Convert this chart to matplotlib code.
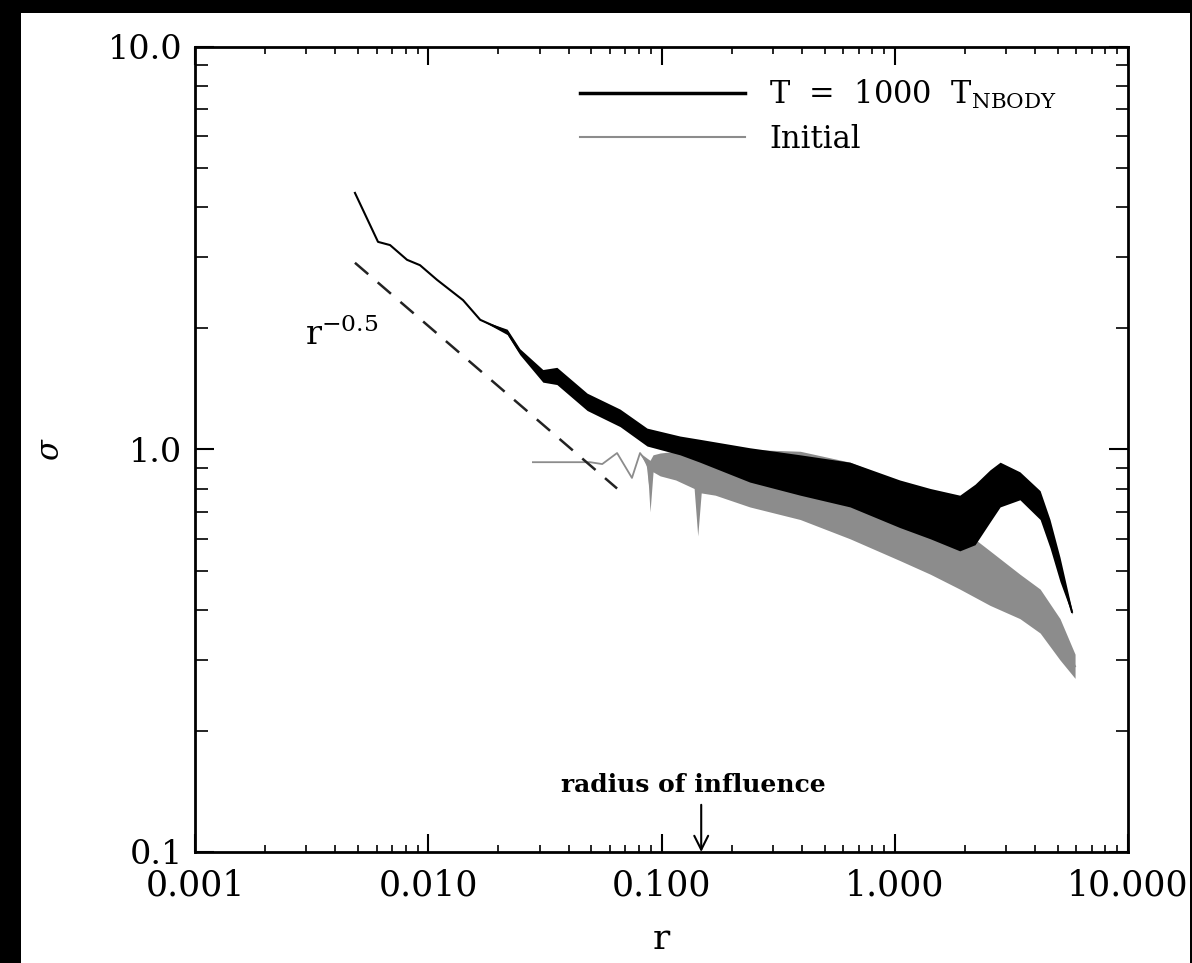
import matplotlib
matplotlib.use("Agg")
import matplotlib.pyplot as plt
from matplotlib.patches import Rectangle
from matplotlib.ticker import FuncFormatter, NullFormatter
from matplotlib.lines import Line2D
import numpy as np

plt.rcParams['font.family'] = ['DejaVu Serif']
plt.rcParams['mathtext.fontset'] = 'dejavuserif'

# ---- data ----
r_final = [0.00485, 0.00609, 0.00686, 0.00811, 0.00922, 0.0109, 0.0141, 0.0167,
           0.0218, 0.0247, 0.031, 0.0356, 0.048, 0.0664, 0.0867, 0.12, 0.146,
           0.239, 0.393, 0.643, 1.05, 1.42, 1.90, 2.21, 2.56, 2.83, 3.44, 4.20,
           4.63, 5.11, 5.75]
sig_final_lo = [4.34, 3.28, 3.22, 2.96, 2.87, 2.64, 2.35, 2.10,
                1.93, 1.72, 1.47, 1.45, 1.25, 1.14, 1.02, 0.97, 0.93,
                0.83, 0.77, 0.72, 0.64, 0.60, 0.56, 0.58, 0.66, 0.72, 0.75, 0.67,
                0.57, 0.47, 0.39]
sig_final_hi = [4.34, 3.28, 3.22, 2.96, 2.87, 2.64, 2.35, 2.10,
                1.99, 1.78, 1.58, 1.60, 1.38, 1.26, 1.13, 1.08, 1.06,
                1.01, 0.97, 0.93, 0.84, 0.80, 0.77, 0.82, 0.89, 0.93, 0.88, 0.79,
                0.67, 0.54, 0.40]

r_init = [0.0281, 0.0494, 0.0557, 0.0645, 0.0747, 0.0809, 0.0870, 0.0893, 0.0920,
          0.0986, 0.115, 0.138, 0.143, 0.148, 0.17, 0.239, 0.393, 0.643, 1.05,
          1.42, 1.90, 2.56, 3.44, 4.20, 5.11, 5.93]
sig_init_lo = [0.93, 0.93, 0.92, 0.98, 0.85, 0.98, 0.90, 0.70, 0.88,
               0.86, 0.84, 0.80, 0.61, 0.78, 0.77, 0.72, 0.67, 0.60, 0.53,
               0.49, 0.45, 0.41, 0.38, 0.35, 0.30, 0.27]
sig_init_hi = [0.93, 0.93, 0.92, 0.98, 0.85, 0.98, 0.95, 0.94, 0.97,
               0.98, 0.99, 0.99, 1.00, 1.00, 1.00, 1.00, 0.99, 0.93, 0.83,
               0.75, 0.64, 0.56, 0.49, 0.45, 0.38, 0.31]

r_slope = [0.00485, 0.0645]
sig_slope = [2.91, 0.80]

r_influence = 0.148

x_ticks = [0.001, 0.01, 0.1, 1.0, 10.0]
y_ticks = [0.1, 1.0, 10.0]

# ---- figure ----
W, H = 1192, 963
fig = plt.figure(figsize=(W / 100, H / 100), dpi=100, facecolor='black')
fig.patches.append(Rectangle((21 / W, 0), (1190 - 21) / W, (H - 13) / H,
                             transform=fig.transFigure, facecolor='white',
                             edgecolor='none', zorder=-10))

ax = fig.add_axes([195 / W, (H - 852) / H, (1128 - 195) / W, (852 - 47) / H])
ax.patch.set_alpha(0)
ax.set_xscale('log')
ax.set_yscale('log')
ax.set_xlim(0.001, 10.0)
ax.set_ylim(0.1, 10.0)

gray = '#8c8c8c'
# initial profile
ax.fill_between(r_init, sig_init_lo, sig_init_hi, color=gray, lw=0, zorder=2)
ax.plot(r_init, np.sqrt(np.array(sig_init_lo) * np.array(sig_init_hi)),
        color=gray, lw=1.3, zorder=2)
# final profile
ax.fill_between(r_final, sig_final_lo, sig_final_hi, color='black', lw=0, zorder=3)
ax.plot(r_final, np.sqrt(np.array(sig_final_lo) * np.array(sig_final_hi)),
        color='black', lw=1.5, zorder=3)

# reference slope
ax.plot(r_slope, sig_slope, color='#222222', lw=1.8, dashes=(7, 5), zorder=2)
ax.text(0.00296, 1.82, r'r$^{-0.5}$', fontsize=24, ha='left', va='baseline')

# radius of influence
ax.annotate('', xy=(r_influence, 0.1), xytext=(r_influence, 0.131),
            arrowprops=dict(arrowstyle='->', lw=1.5, color='black', mutation_scale=25,
                            shrinkA=0, shrinkB=0))
ax.text(0.137, 0.1467, 'radius of influence', fontsize=18, fontweight='bold',
        ha='center', va='center')

# legend
h1 = Line2D([], [], color='black', lw=2.5)
h2 = Line2D([], [], color=gray, lw=1.5)
leg = ax.legend([h1, h2], [r'T  =  1000  T$_{\rm NBODY}$', 'Initial'],
                loc='upper left', bbox_to_anchor=(0.4126, 0.962), frameon=False,
                fontsize=22, handlelength=5.4, handletextpad=0.8,
                labelspacing=0.42, borderpad=0, borderaxespad=0)

# axes style
for s in ax.spines.values():
    s.set_linewidth(2)
ax.set_xticks(x_ticks)
ax.set_yticks(y_ticks)
ax.xaxis.set_major_formatter(FuncFormatter(lambda v, p: f'{v:.3f}'))
ax.yaxis.set_major_formatter(FuncFormatter(lambda v, p: f'{v:.1f}'))
ax.xaxis.set_minor_formatter(NullFormatter())
ax.yaxis.set_minor_formatter(NullFormatter())
ax.tick_params(axis='x', which='major', direction='in', length=13, width=1.5,
               top=True, labelsize=25, pad=12)
ax.tick_params(axis='x', which='minor', direction='in', length=5, width=1.2, top=True)
ax.tick_params(axis='y', which='major', direction='in', length=14, width=1.5,
               right=True, labelsize=24, pad=9)
ax.tick_params(axis='y', which='minor', direction='in', length=9, width=1.2, right=True)

ax.set_xlabel('r', fontsize=26, labelpad=14)
ax.set_ylabel(r'$\sigma$', fontsize=22, labelpad=30)

fig.savefig('out.png', dpi=100, facecolor=fig.get_facecolor())
